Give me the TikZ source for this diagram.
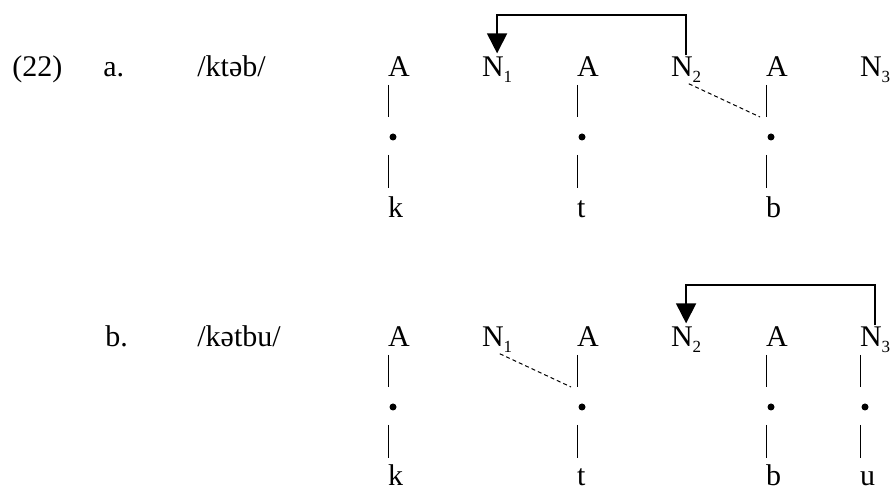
\documentclass[tikz,border=0pt]{standalone}
\usepackage{fontspec}
\setmainfont{LiberationSerif}[Extension=.ttf, UprightFont=*-Regular, BoldFont=*-Bold, ItalicFont=*-Italic, BoldItalicFont=*-BoldItalic]
\usetikzlibrary{positioning, calc, arrows.meta}
\newcommand{\nsub}[1]{\raisebox{-2.75pt}{\fontsize{8.5}{9}\selectfont #1}}

\begin{document}
\begin{tikzpicture}[
        x=0.5pt, y=-0.5pt,
        font=\rmfamily\fontsize{15}{18}\selectfont,
        seg/.style={inner sep=0pt, outer sep=0pt, anchor=base west},
        tag/.style={inner sep=0pt, anchor=base west},
        dot/.style={circle, fill=black, inner sep=0pt, minimum size=3.5pt},
        bar/.style={line width=0.5pt},
        link/.style={line width=0.5pt, dash pattern=on 2pt off 1.5pt, shorten <=1.5pt},
        move/.style={line width=0.9pt, shorten <=1pt, shorten >=2pt,
                     -{Triangle[width=10pt,length=10pt]}}
    ]
        \useasboundingbox (0,0) rectangle (895,490);

        % Labels
        \node [tag] (ex) at (12,77) {(22)};
        \node [tag] (ia) at (103,77) {a.};
        \node [tag] (fa) at (197,77) {/ktəb/};
        \node [tag] (ib) at (105,347) {b.};
        \node [tag] (fb) at (197,347) {/kətbu/};

        % Row a: nodes
        \node [seg] (aA1) at (388,77) {A};
        \node [seg] (aN1) at (482,77) {N\nsub{1}};
        \node [seg] (aA2) at (577,77) {A};
        \node [seg] (aN2) at (671,77) {N\nsub{2}};
        \node [seg] (aA3) at (766,77) {A};
        \node [seg] (aN3) at (860,77) {N\nsub{3}};

        \node [dot] (aD1) at (393,137) {};
        \node [dot] (aD2) at (582,137) {};
        \node [dot] (aD3) at (771,137) {};

        \node [seg] (aK) at (388,218) {k};
        \node [seg] (aT) at (577,218) {t};
        \node [seg] (aB) at (766,218) {b};

        % Row a: edges
        \draw [bar] ($(aA1.base west)+(0,8)$) -- ($(aD1)+(-5,-20)$);
        \draw [bar] ($(aD1)+(-5,18)$) -- ($(aK.base west)+(0,-30)$);
        \draw [bar] ($(aA2.base west)+(0,8)$) -- ($(aD2)+(-5,-20)$);
        \draw [bar] ($(aD2)+(-5,18)$) -- ($(aT.base west)+(0,-30)$);
        \draw [bar] ($(aA3.base west)+(0,8)$) -- ($(aD3)+(-5,-20)$);
        \draw [bar] ($(aD3)+(-5,18)$) -- ($(aB.base west)+(0,-30)$);
        \draw [link] (aN2.south) -- ($(aD3)+(-11,-20)$);
        \draw [move] (aN2.north) -- ++(0,-42) -| (aN1.north);

        % Row b: nodes
        \node [seg] (bA1) at (388,347) {A};
        \node [seg] (bN1) at (482,347) {N\nsub{1}};
        \node [seg] (bA2) at (577,347) {A};
        \node [seg] (bN2) at (671,347) {N\nsub{2}};
        \node [seg] (bA3) at (766,347) {A};
        \node [seg] (bN3) at (860,347) {N\nsub{3}};

        \node [dot] (bD1) at (393,407) {};
        \node [dot] (bD2) at (582,407) {};
        \node [dot] (bD3) at (771,407) {};
        \node [dot] (bD4) at (865,407) {};

        \node [seg] (bK) at (388,486) {k};
        \node [seg] (bT) at (577,486) {t};
        \node [seg] (bB) at (766,486) {b};
        \node [seg] (bU) at (860,486) {u};

        % Row b: edges
        \draw [bar] ($(bA1.base west)+(0,8)$) -- ($(bD1)+(-5,-20)$);
        \draw [bar] ($(bD1)+(-5,18)$) -- ($(bK.base west)+(0,-28)$);
        \draw [bar] ($(bA2.base west)+(0,8)$) -- ($(bD2)+(-5,-20)$);
        \draw [bar] ($(bD2)+(-5,18)$) -- ($(bT.base west)+(0,-28)$);
        \draw [bar] ($(bA3.base west)+(0,8)$) -- ($(bD3)+(-5,-20)$);
        \draw [bar] ($(bD3)+(-5,18)$) -- ($(bB.base west)+(0,-28)$);
        \draw [bar] ($(bN3.base west)+(0,8)$) -- ($(bD4)+(-5,-20)$);
        \draw [bar] ($(bD4)+(-5,18)$) -- ($(bU.base west)+(0,-28)$);
        \draw [link] (bN1.south) -- ($(bD2)+(-11,-20)$);
        \draw [move] (bN3.north) -- ++(0,-42) -| (bN2.north);

    \end{tikzpicture}
\end{document}
